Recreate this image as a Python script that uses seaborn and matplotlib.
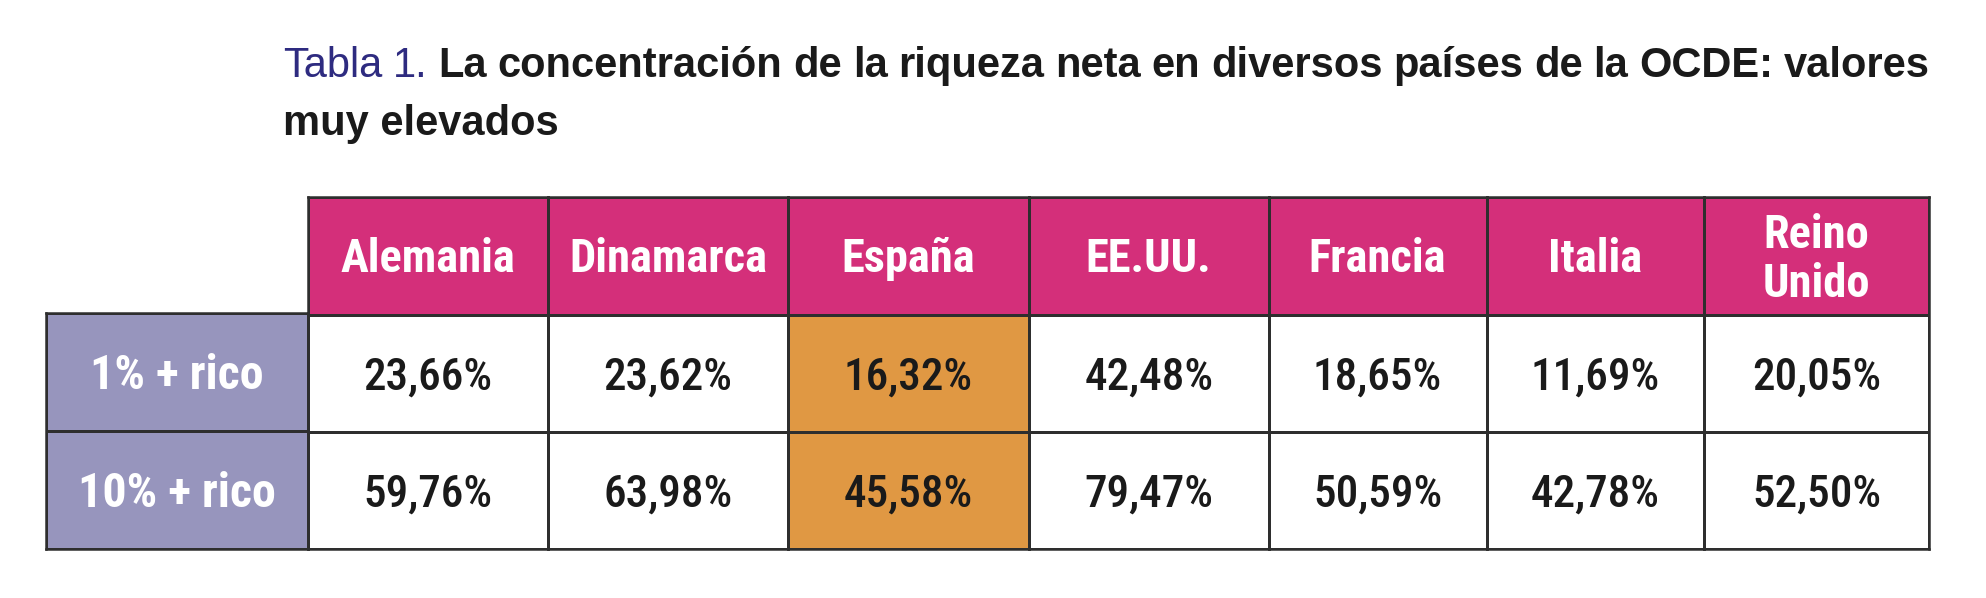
import numpy as np
import pandas as pd
import matplotlib
matplotlib.use("Agg")
import matplotlib.pyplot as plt
import seaborn as sns
from matplotlib.colors import ListedColormap
from matplotlib.transforms import offset_copy

# ---------------- data ----------------
paises = ["Alemania", "Dinamarca", "España", "EE.UU.", "Francia", "Italia", "Reino\nUnido"]
grupos = ["1% + rico", "10% + rico"]
top1 = [23.66, 23.62, 16.32, 42.48, 18.65, 11.69, 20.05]
top10 = [59.76, 63.98, 45.58, 79.47, 50.59, 42.78, 52.50]
destacado = "España"
titulo_num = "Tabla 1."
titulo_l1 = "La concentración de la riqueza neta en diversos países de la OCDE: valores"
titulo_l2 = "muy elevados"

# ---------------- style ----------------
sns.set_theme(style="white")
COND = ["Roboto Condensed", "DejaVu Sans"]
TFAM = ["Liberation Sans", "DejaVu Sans"]
plt.rcParams["font.family"] = COND

C_HEAD = "#D42F7A"
C_ROW = "#9795BD"
C_HI = "#E09843"
C_CELL = "#FFFFFF"
C_LINE = "#2E2E2E"
C_NAVY = "#2E2B80"
C_TXT = "#1A1A1A"
cmap = ListedColormap([C_HEAD, C_CELL, C_HI, C_ROW])

W, H = 1986, 598
fig = plt.figure(figsize=(W / 100, H / 100), dpi=100)
fig.patch.set_facecolor("white")

x_lab = (45.6, 307.8)
x_edges = [307.8, 548.4, 787.8, 1029.0, 1268.5, 1486.5, 1704.0, 1929.3]
y_top, y_head, y_bot = 197.3, 313.3, 549.0
LW = 1.8


def add_ax(x0, y0, x1, y1):
    return fig.add_axes([x0 / W, 1 - y1 / H, (x1 - x0) / W, (y1 - y0) / H])


def frame(ax):
    for s in ax.spines.values():
        s.set_visible(True)
        s.set_color(C_LINE)
        s.set_linewidth(LW)


def fmt(v):
    return f"{v:.2f}".replace(".", ",") + "%"


def put(ax, y, s, cap, size, weight, color, n=1, k=0, L=49):
    off = -cap / 2 + ((n - 1) / 2 - k) * L
    tr = offset_copy(ax.transData, fig=fig, y=off, units="dots")
    ax.text(0.5, y, s, transform=tr, ha="center", va="baseline",
            fontsize=size, fontweight=weight, color=color, family=COND)


# ---------- data columns (header + two rows) ----------
for j, pais in enumerate(paises):
    code = 2 if pais == destacado else 1
    df = pd.DataFrame({"v": [0, code, code]}, index=["head"] + grupos)
    ax = add_ax(x_edges[j], y_top, x_edges[j + 1], y_bot)
    sns.heatmap(df, ax=ax, cmap=cmap, vmin=-0.5, vmax=3.5, cbar=False,
                linewidths=LW, linecolor=C_LINE, xticklabels=False, yticklabels=False)
    frame(ax)
    lines = pais.split("\n")
    for k, ln in enumerate(lines):
        put(ax, 0.5, ln, 33, 33.5, "bold", "white", n=len(lines), k=k)
    put(ax, 1.5, fmt(top1[j]), 33, 32.5, 500, C_TXT)
    put(ax, 2.5, fmt(top10[j]), 33, 32.5, 500, C_TXT)

# ---------- row label column ----------
ax = add_ax(x_lab[0], y_head, x_lab[1], y_bot)
dfl = pd.DataFrame({"v": [3, 3]}, index=grupos)
sns.heatmap(dfl, ax=ax, cmap=cmap, vmin=-0.5, vmax=3.5, cbar=False,
            linewidths=LW, linecolor=C_LINE, xticklabels=False, yticklabels=False)
frame(ax)
for i, g in enumerate(grupos):
    put(ax, i + 0.5, g, 33, 34.5, "bold", "white")

# ---------- title (justified first line) ----------
TS = 30.0
x_left, x_right = 283.0, 1930.0
base1, base2 = 76.7, 134.5
renderer = fig.canvas.get_renderer()
words = [(w, "normal", C_NAVY) for w in titulo_num.split()] + \
        [(w, "bold", C_TXT) for w in titulo_l1.split()]
objs = [fig.text(0, 0, w, fontsize=TS, family=TFAM, fontweight=wt, color=c,
                 ha="left", va="baseline") for w, wt, c in words]
widths = [o.get_window_extent(renderer).width for o in objs]
gap = (x_right - x_left - sum(widths)) / (len(objs) - 1)
x = x_left
for o, wd in zip(objs, widths):
    o.set_position((x / W, 1 - base1 / H))
    x += wd + gap
fig.text(x_left / W, 1 - base2 / H, titulo_l2, fontsize=TS, family=TFAM,
         fontweight="bold", color=C_TXT, ha="left", va="baseline")

fig.savefig("out.png", dpi=100, facecolor="white")
